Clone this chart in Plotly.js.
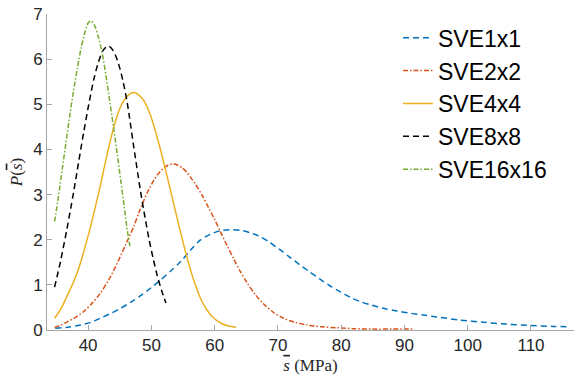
<!DOCTYPE html>
<html>
<head>
<meta charset="utf-8">
<script src="https://cdn.plot.ly/plotly-3.0.1.min.js"></script>
<style>html,body{margin:0;padding:0;background:#fff;}#chart{width:575px;height:377px;}</style>
</head>
<body>
<div id="chart"></div>
<script>
// Series names
const seriesNames = ["SVE1x1", "SVE2x2", "SVE4x4", "SVE8x8", "SVE16x16"];

// SVE1x1
const sve1x1X = [34.8, 36.8, 38.8, 40.4, 41.9, 43.5, 45.1, 46.7, 48.3, 49.9, 51.4, 53.0, 54.6, 56.2, 57.7, 59.3, 60.9, 62.4, 64.0, 65.5, 67.0, 68.6, 70.2, 71.8, 73.4, 75.0, 76.6, 78.2, 79.8, 81.4, 83.0, 84.8, 86.7, 88.8, 91.0, 93.0, 95.1, 98.8, 102.5, 106.2, 109.8, 113.5, 116.0];
const sve1x1Y = [0.04, 0.06, 0.11, 0.17, 0.26, 0.36, 0.48, 0.61, 0.76, 0.93, 1.10, 1.30, 1.51, 1.77, 1.99, 2.12, 2.20, 2.22, 2.21, 2.16, 2.08, 1.95, 1.79, 1.62, 1.45, 1.29, 1.13, 0.98, 0.85, 0.73, 0.63, 0.55, 0.48, 0.42, 0.37, 0.33, 0.29, 0.22, 0.17, 0.13, 0.10, 0.08, 0.07];

// SVE2x2
const sve2x2X = [34.7, 35.7, 36.7, 38.0, 39.3, 40.6, 41.9, 43.3, 44.6, 45.9, 47.2, 48.0, 48.8, 49.6, 50.4, 51.2, 51.9, 52.6, 53.3, 54.0, 54.8, 55.5, 56.2, 57.0, 58.0, 59.0, 60.0, 60.9, 62.0, 63.0, 64.0, 65.1, 66.4, 67.7, 69.3, 70.9, 72.7, 74.6, 77.0, 79.3, 82.0, 85.0, 88.0, 91.4];
const sve2x2Y = [0.06, 0.11, 0.18, 0.28, 0.41, 0.59, 0.81, 1.12, 1.48, 1.88, 2.29, 2.59, 2.87, 3.11, 3.32, 3.48, 3.58, 3.65, 3.68, 3.66, 3.60, 3.51, 3.38, 3.22, 2.99, 2.72, 2.45, 2.18, 1.86, 1.58, 1.31, 1.05, 0.79, 0.58, 0.39, 0.26, 0.17, 0.11, 0.07, 0.05, 0.03, 0.02, 0.02, 0.02];

// SVE4x4
const sve4x4X = [34.7, 35.7, 36.7, 37.8, 38.8, 39.6, 40.4, 41.2, 41.9, 42.5, 43.1, 43.7, 44.3, 45.0, 45.6, 46.4, 47.2, 48.0, 48.8, 49.6, 50.4, 51.2, 51.9, 52.7, 53.5, 54.3, 55.1, 55.9, 56.7, 57.7, 58.7, 59.8, 61.0, 62.2, 63.4];
const sve4x4Y = [0.26, 0.47, 0.76, 1.10, 1.49, 1.88, 2.30, 2.76, 3.18, 3.57, 3.95, 4.30, 4.62, 4.90, 5.07, 5.21, 5.26, 5.21, 5.08, 4.85, 4.52, 4.12, 3.74, 3.28, 2.81, 2.34, 1.89, 1.47, 1.10, 0.72, 0.46, 0.27, 0.15, 0.09, 0.06];

// SVE8x8
const sve8x8X = [34.7, 35.6, 36.6, 37.7, 38.5, 39.3, 40.1, 40.9, 41.6, 42.4, 43.2, 44.0, 44.8, 45.5, 46.2, 47.2, 48.3, 49.0, 49.6, 50.3, 50.9, 51.6, 52.3];
const sve8x8Y = [0.95, 1.50, 2.20, 3.05, 3.72, 4.38, 5.00, 5.55, 5.92, 6.20, 6.29, 6.18, 5.90, 5.52, 5.02, 4.07, 3.06, 2.49, 2.03, 1.57, 1.22, 0.88, 0.60];

// SVE16x16
const sve16x16X = [34.7, 35.3, 35.9, 36.5, 37.1, 37.7, 38.3, 38.9, 39.5, 40.0, 40.4, 41.0, 41.6, 42.2, 42.8, 43.4, 44.0, 44.6, 45.2, 45.7, 46.1, 46.6];
const sve16x16Y = [2.40, 2.95, 3.55, 4.15, 4.75, 5.30, 5.80, 6.25, 6.60, 6.80, 6.85, 6.75, 6.50, 6.15, 5.65, 5.08, 4.50, 3.90, 3.27, 2.74, 2.30, 1.86];

// Axis ticks
const xTicks = [40, 50, 60, 70, 80, 90, 100, 110];
const yTicks = [0, 1, 2, 3, 4, 5, 6, 7];

const xs = [sve1x1X, sve2x2X, sve4x4X, sve8x8X, sve16x16X];
const ys = [sve1x1Y, sve2x2Y, sve4x4Y, sve8x8Y, sve16x16Y];
const colors = ["#0072BD", "#D95319", "#EDB120", "#000000", "#77AC30"];
const dashes = ["6px,4px", "5px,2px,1.5px,2px", "solid", "6px,4px", "5px,2px,1.5px,2px"];

const traces = seriesNames.map((name, i) => ({
  type: "scatter",
  mode: "lines",
  name: name,
  legendgroup: name,
  x: xs[i],
  y: ys[i],
  line: {color: colors[i], width: 1.5, dash: dashes[i], shape: "spline", smoothing: 0.8}
}));

const axisColor = "#a6a6a6";
const tickFont = {family: "Liberation Sans, Arial, sans-serif", size: 17, color: "#262626"};
const titleFont = {family: "Liberation Serif, Times New Roman, serif", size: 17, color: "#262626"};
const sBar = '<span style="text-decoration:overline"><i>s</i></span>';

const layout = {
  width: 575,
  height: 377,
  margin: {l: 47, r: 1, t: 14, b: 47},
  paper_bgcolor: "#ffffff",
  plot_bgcolor: "#ffffff",
  showlegend: true,
  legend: {
    x: 0.666, y: 0.993, xanchor: "left", yanchor: "top",
    bgcolor: "rgba(0,0,0,0)",
    font: {family: "Liberation Sans, Arial, sans-serif", size: 23, color: "#000000"},
    tracegroupgap: 0,
    itemwidth: 30
  },
  xaxis: {
    range: [33.5, 116.8],
    tickmode: "array",
    tickvals: xTicks,
    ticktext: xTicks.map(String),
    ticks: "inside",
    ticklen: 5,
    tickcolor: axisColor,
    showline: true,
    linecolor: axisColor,
    linewidth: 1,
    showgrid: false,
    zeroline: false,
    tickfont: tickFont,
    title: {text: sBar + " (MPa)", font: titleFont, standoff: 4}
  },
  yaxis: {
    range: [0, 7],
    tickmode: "array",
    tickvals: yTicks,
    ticktext: yTicks.map(String),
    ticks: "inside",
    ticklen: 5,
    tickcolor: axisColor,
    showline: true,
    linecolor: axisColor,
    linewidth: 1,
    showgrid: false,
    zeroline: false,
    tickfont: tickFont,
    title: {text: "<i>P</i>(" + sBar + ")", font: titleFont, standoff: 6}
  }
};

Plotly.newPlot("chart", traces, layout, {displayModeBar: false, staticPlot: true});
</script>
</body>
</html>
